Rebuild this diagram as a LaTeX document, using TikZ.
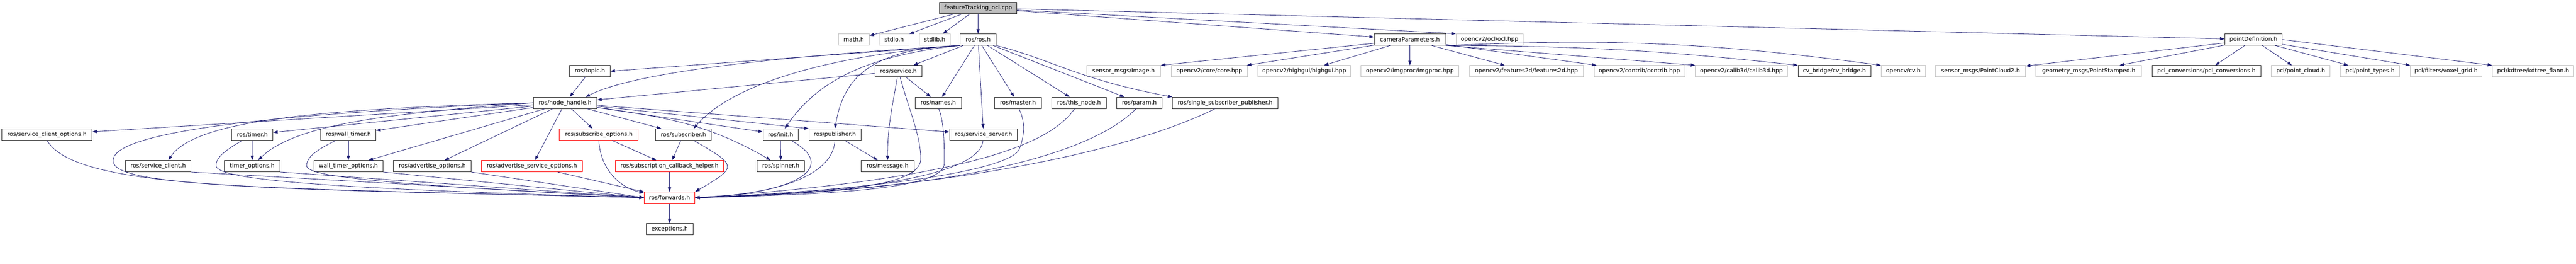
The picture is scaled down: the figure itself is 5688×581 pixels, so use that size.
\documentclass[tikz,border=0pt]{standalone}
\usepackage{fontspec}
\setmainfont{DejaVu Sans}
\usepackage{tikz}
\usetikzlibrary{arrows.meta}
\usepackage{xcolor}
\definecolor{edgeblue}{HTML}{191970}
\definecolor{sysgray}{HTML}{BFBFBF}
\newcommand{\hdrfont}{\fontsize{12.65}{15}\selectfont}

\begin{document}
\begin{tikzpicture} [
      x = 1pt, y = 1pt,
      hdr/.style = { draw = black!85, fill = white, line width = 1pt, inner sep = 0, minimum height = 25pt, font = \hdrfont },
      docfile/.style = { hdr },
      sysfile/.style = { hdr, draw = sysgray },
      cutfile/.style = { hdr, draw = red },
      rootfile/.style = { hdr, fill = sysgray },
      incl/.style = { draw = edgeblue, line width = 0.9pt, -{Triangle[length=10pt,width=7pt]} }
      ]
    \useasboundingbox (0,0) rectangle (5688,-581);

    \node [rootfile, minimum width = 171pt] (root) at (2159.8,-17.5) {featureTracking\_ocl.cpp};

    \node [sysfile, minimum width = 68pt] (math) at (1885.2,-87.2) {math.h};
    \node [sysfile, minimum width = 65.6pt] (stdio) at (1974.5,-87.2) {stdio.h};
    \node [sysfile, minimum width = 68.3pt] (stdlib) at (2063.8,-87.2) {stdlib.h};
    \node [docfile, minimum width = 78.7pt] (ros) at (2159.7,-87.2) {ros/ros.h};
    \node [docfile, minimum width = 157.7pt] (camP) at (3113.2,-87.2) {cameraParameters.h};
    \node [sysfile, minimum width = 148.3pt] (ocl) at (3289.2,-87.2) {opencv2/ocl/ocl.hpp};
    \node [docfile, minimum width = 127pt] (pointDef) at (4975.8,-87.2) {pointDefinition.h};

    \node [docfile, minimum width = 89.6pt] (topic) at (1302.5,-156.8) {ros/topic.h};
    \node [docfile, minimum width = 103pt] (service) at (1983.8,-156.8) {ros/service.h};
    \node [sysfile, minimum width = 162.6pt] (image) at (2481,-156.8) {sensor\_msgs/Image.h};
    \node [sysfile, minimum width = 168pt] (core) at (2670.3,-156.8) {opencv2/core/core.hpp};
    \node [sysfile, minimum width = 204.3pt] (highgui) at (2879.8,-156.8) {opencv2/highgui/highgui.hpp};
    \node [sysfile, minimum width = 216.3pt] (imgproc) at (3113.2,-156.8) {opencv2/imgproc/imgproc.hpp};
    \node [sysfile, minimum width = 251pt] (features) at (3370.5,-156.8) {opencv2/features2d/features2d.hpp};
    \node [sysfile, minimum width = 200.3pt] (contrib) at (3619.8,-156.8) {opencv2/contrib/contrib.hpp};
    \node [sysfile, minimum width = 203pt] (calib) at (3845.2,-156.8) {opencv2/calib3d/calib3d.hpp};
    \node [docfile, minimum width = 160.4pt] (cvbridge) at (4050.5,-156.8) {cv\_bridge/cv\_bridge.h};
    \node [sysfile, minimum width = 97.6pt] (cvh) at (4202.5,-156.8) {opencv/cv.h};
    \node [sysfile, minimum width = 199pt] (cloud2) at (4373.2,-156.8) {sensor\_msgs/PointCloud2.h};
    \node [sysfile, minimum width = 233.4pt] (stamped) at (4612,-156.8) {geometry\_msgs/PointStamped.h};
    \node [docfile, minimum width = 240.6pt] (pclconv) at (4872,-156.8) {pcl\_conversions/pcl\_conversions.h};
    \node [sysfile, minimum width = 129.4pt] (pcloud) at (5080,-156.8) {pcl/point\_cloud.h};
    \node [sysfile, minimum width = 131pt] (ptypes) at (5233.2,-156.8) {pcl/point\_types.h};
    \node [sysfile, minimum width = 159pt] (voxel) at (5401.2,-156.8) {pcl/filters/voxel\_grid.h};
    \node [sysfile, minimum width = 180pt] (kdtree) at (5593.3,-156.8) {pcl/kdtree/kdtree\_flann.h};

    \node [docfile, minimum width = 140.7pt] (nh) at (1247.7,-226.5) {ros/node\_handle.h};
    \node [docfile, minimum width = 103pt] (names) at (2071.8,-226.5) {ros/names.h};
    \node [docfile, minimum width = 102.7pt] (master) at (2247.7,-226.5) {ros/master.h};
    \node [docfile, minimum width = 120.4pt] (thisnode) at (2382.5,-226.5) {ros/this\_node.h};
    \node [docfile, minimum width = 100.3pt] (param) at (2515.8,-226.5) {ros/param.h};
    \node [docfile, minimum width = 232.3pt] (ssp) at (2705.2,-226.5) {ros/single\_subscriber\_publisher.h};

    \node [docfile, minimum width = 199pt] (sco) at (103.8,-296.2) {ros/service\_client\_options.h};
    \node [docfile, minimum width = 91pt] (timer) at (557.2,-296.2) {ros/timer.h};
    \node [docfile, minimum width = 121.7pt] (wtimer) at (769.2,-296.2) {ros/wall\_timer.h};
    \node [cutfile, minimum width = 174pt] (subopt) at (1322.3,-296.2) {ros/subscribe\_options.h};
    \node [docfile, minimum width = 123pt] (subscriber) at (1509.2,-296.2) {ros/subscriber.h};
    \node [docfile, minimum width = 77.3pt] (init) at (1723.7,-296.2) {ros/init.h};
    \node [docfile, minimum width = 115pt] (publisher) at (1843.5,-296.2) {ros/publisher.h};
    \node [docfile, minimum width = 149.7pt] (sserver) at (2171.8,-296.2) {ros/service\_server.h};

    \node [docfile, minimum width = 144pt] (sclient) at (349.3,-365.8) {ros/service\_client.h};
    \node [docfile, minimum width = 122.6pt] (topt) at (557,-365.8) {timer\_options.h};
    \node [docfile, minimum width = 152.3pt] (wtopt) at (769.2,-365.8) {wall\_timer\_options.h};
    \node [docfile, minimum width = 171pt] (advopt) at (954.5,-365.8) {ros/advertise\_options.h};
    \node [cutfile, minimum width = 223pt] (advsopt) at (1174.5,-365.8) {ros/advertise\_service\_options.h};
    \node [cutfile, minimum width = 239.3pt] (sch) at (1478.3,-365.8) {ros/subscription\_callback\_helper.h};
    \node [docfile, minimum width = 104pt] (spinner) at (1724,-365.8) {ros/spinner.h};
    \node [docfile, minimum width = 117.7pt] (message) at (1959.8,-365.8) {ros/message.h};

    \node [cutfile, minimum width = 112pt] (fwd) at (1478.3,-435.3) {ros/forwards.h};
    \node [docfile, minimum width = 103pt] (exc) at (1478.5,-504.7) {exceptions.h};

    \foreach \t in {math,stdio,stdlib,ros,camP,pointDef}
      \draw [incl] (root) -- (\t);
    \draw [incl] (root) -- (ocl.north west);

    \draw [incl] (ros.south west) -- (topic.east);
    \draw [incl] (ros.south west) .. controls (1700,-125) and (1400,-160) .. (nh.16);
    \draw [incl] (ros.south west) .. controls (1850,-120) and (1620,-180) .. (subscriber.30);
    \draw [incl] (ros.south west) .. controls (1880,-125) and (1790,-200) .. (init.55);
    \draw [incl] (ros.south west) .. controls (1900,-108) and (1860,-190) .. (publisher.north);
    \foreach \t in {service,names,sserver,master,thisnode,param}
      \draw [incl] (ros) -- (\t);
    \draw [incl] (ros.south east) .. controls (2320,-130) and (2380,-175) .. (ssp.north west);

    \draw [incl] (camP) -- (image.north east);
    \foreach \t in {core,highgui,imgproc,features,contrib}
      \draw [incl] (camP) -- (\t);
    \draw [incl] (camP.south east) -- (calib.north west);
    \draw [incl] (camP.south east) to [bend left=3] (cvbridge.north west);
    \draw [incl] (camP.south east) to [bend left=5] (cvh.north west);

    \foreach \t in {cloud2,stamped,pclconv,pcloud,ptypes,voxel}
      \draw [incl] (pointDef) -- (\t);
    \draw [incl] (pointDef.east) -- (kdtree.north west);

    \draw [incl] (topic) -- (nh);
    \draw [incl] (service) -- (nh);
    \draw [incl] (service) -- (names);
    \draw [incl] (service) to [out=-100, in=90] (message);
    \draw [incl] (service.-75) .. controls (2010,-250) and (2033,-300) .. (2033,-350)
      .. controls (2033,-410) and (1850,-425) .. (fwd.east);

    \foreach \t in {sco,timer,wtimer,wtopt,advopt,advsopt,subopt,subscriber,init,sserver}
      \draw [incl] (nh) -- (\t);
    \draw [incl] (nh) -- (publisher.north west);
    \draw [incl] (nh.west) .. controls (700,-240) and (430,-265) .. (sclient.30);
    \draw [incl] (nh.west) .. controls (850,-250) and (650,-275) .. (topt.45);
    \draw [incl] (nh) to [out=-8, in=150] (spinner);
    \draw [incl] (nh.west) .. controls (600,-250) and (250,-290) .. (250,-353)
      .. controls (245,-410) and (560,-415) .. (fwd.west);

    \draw [incl] (sco.south) .. controls (170,-420) and (600,-415) .. (fwd.west);
    \draw [incl] (sclient.south east) -- (fwd.west);
    \draw [incl] (timer) -- (topt);
    \draw [incl] (timer.-150) .. controls (500,-330) and (477,-345) .. (477,-365)
      .. controls (480,-395) and (700,-415) .. (fwd.west);
    \draw [incl] (topt.south east) -- (fwd.west);
    \draw [incl] (wtimer) -- (wtopt);
    \draw [incl] (wtimer.-155) .. controls (700,-330) and (677,-345) .. (677,-365)
      .. controls (678,-390) and (850,-405) .. (fwd.west);
    \draw [incl] (wtopt.south east) -- (fwd.west);
    \draw [incl] (advopt.south east) -- (fwd.west);
    \draw [incl] (advsopt) -- (fwd);
    \draw [incl] (subopt) -- (sch);
    \draw [incl] (subopt.south) .. controls (1325,-365) and (1360,-410) .. (fwd.170);
    \draw [incl] (subscriber) -- (sch);
    \draw [incl] (subscriber) to [out=-30, in=30, looseness=2.5] (fwd.north east);
    \draw [incl] (init) -- (spinner);
    \draw [incl] (init.-30) .. controls (1850,-365) and (1770,-425) .. (fwd.east);
    \draw [incl] (publisher.south) .. controls (1840,-385) and (1720,-428) .. (fwd.east);
    \draw [incl] (publisher) -- (message);
    \draw [incl] (names.-85) .. controls (2085,-270) and (2085,-320) .. (2085,-360)
      .. controls (2085,-415) and (1850,-428) .. (fwd.east);
    \draw [incl] (master.-80) .. controls (2265,-270) and (2262,-300) .. (2250,-330)
      .. controls (2220,-380) and (1900,-420) .. (fwd.east);
    \draw [incl] (thisnode.-127) .. controls (2330,-300) and (2200,-390) .. (fwd.east);
    \draw [incl] (param.-120) .. controls (2420,-330) and (2150,-420) .. (fwd.east);
    \draw [incl] (ssp.-150) .. controls (2500,-330) and (2100,-420) .. (fwd.east);
    \draw [incl] (sserver.-95) .. controls (2165,-370) and (2000,-420) .. (fwd.east);
    \draw [incl] (sch) -- (fwd);
    \draw [incl] (fwd) -- (exc);
\end{tikzpicture}
\end{document}
